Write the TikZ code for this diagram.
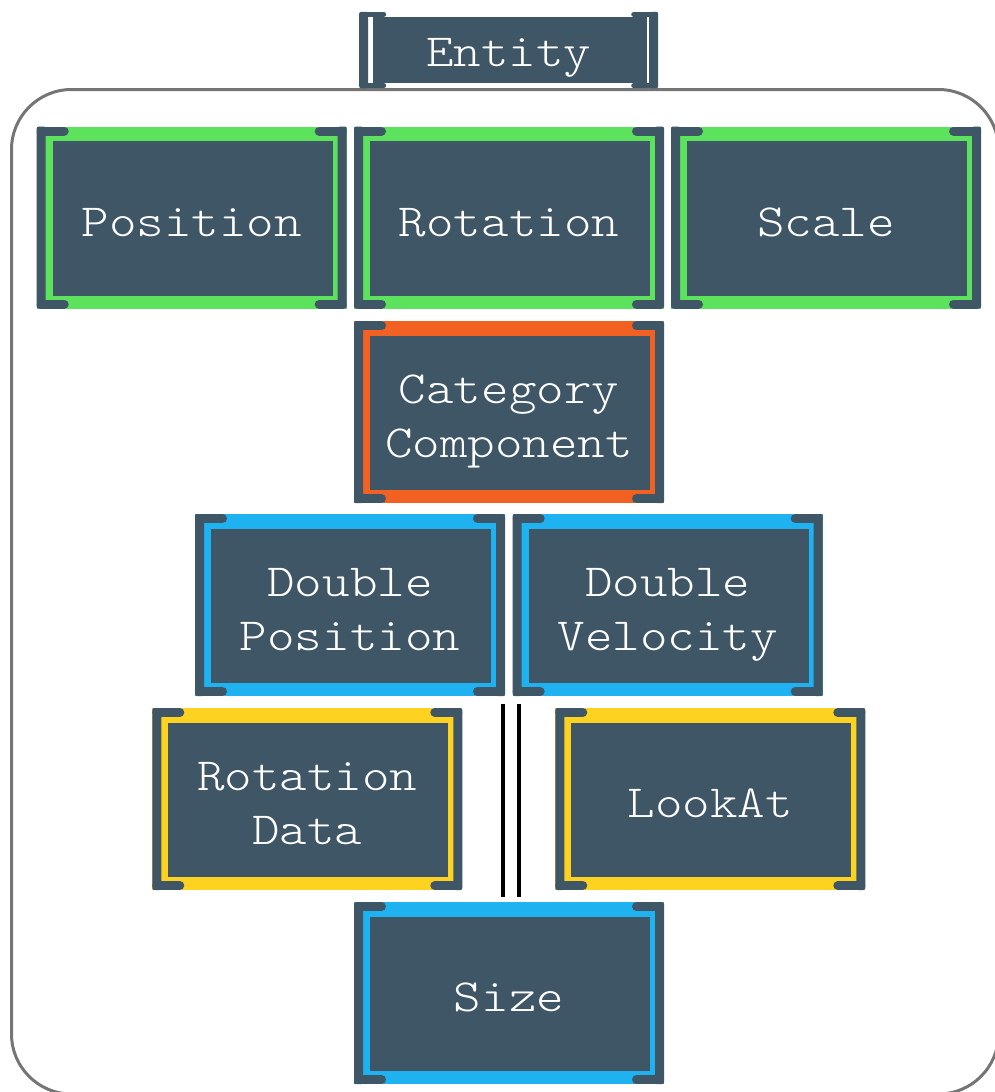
\documentclass[tikz,border=0pt]{standalone}
\usepackage{fontspec}
\newfontfamily\boxfont[FakeStretch=1.14]{lmmonolt10-regular.otf}
\definecolor{slate}{HTML}{3F5666}
\definecolor{cgreen}{HTML}{5CE25C}
\definecolor{corange}{HTML}{F26022}
\definecolor{cblue}{HTML}{1EB2F0}
\definecolor{cyellow}{HTML}{FDD220}
\definecolor{frame}{HTML}{757575}
% #1 = arm thickness, #2 = arm length
\newcommand\compbrackets[2]{%
  \fill[slate, rounded corners=2pt]
    (path picture bounding box.north west) rectangle
    ([xshift=9pt]path picture bounding box.south west);
  \fill[slate, rounded corners=2pt]
    ([xshift=-9pt]path picture bounding box.north east) rectangle
    (path picture bounding box.south east);
  \draw[slate, line width=#1pt, line cap=round]
    ([xshift=4.5pt,yshift=-#1pt/2]path picture bounding box.north west) --
    ([xshift=#2pt-#1pt/2,yshift=-#1pt/2]path picture bounding box.north west);
  \draw[slate, line width=#1pt, line cap=round]
    ([xshift=4.5pt,yshift=#1pt/2]path picture bounding box.south west) --
    ([xshift=#2pt-#1pt/2,yshift=#1pt/2]path picture bounding box.south west);
  \draw[slate, line width=#1pt, line cap=round]
    ([xshift=-4.5pt,yshift=-#1pt/2]path picture bounding box.north east) --
    ([xshift=-#2pt+#1pt/2,yshift=-#1pt/2]path picture bounding box.north east);
  \draw[slate, line width=#1pt, line cap=round]
    ([xshift=-4.5pt,yshift=#1pt/2]path picture bounding box.south east) --
    ([xshift=-#2pt+#1pt/2,yshift=#1pt/2]path picture bounding box.south east);
}
\tikzset{
  x=1pt, y=-1pt,
  compbox/.style={rectangle, fill=#1, minimum width=310pt, minimum height=182pt,
    inner sep=0pt, text=white, align=center,
    font=\boxfont\fontsize{46}{54}\selectfont,
    text height=37pt, text depth=0pt,
    path picture={
      \fill[slate] ([xshift=16pt,yshift=-14.5pt]path picture bounding box.north west)
        rectangle ([xshift=-14pt,yshift=13pt]path picture bounding box.south east);
      \compbrackets{9}{32}
    }},
  twoline/.style={text height=91pt},
  entitybox/.style={rectangle, fill=white, minimum width=299pt, minimum height=76.5pt,
    inner sep=0pt, text=white,
    font=\boxfont\fontsize{46}{54}\selectfont,
    text height=32pt, text depth=0pt,
    path picture={
      \fill[slate] ([xshift=13.4pt,yshift=-5pt]path picture bounding box.north west)
        rectangle ([xshift=-11.3pt,yshift=5.3pt]path picture bounding box.south east);
      \compbrackets{5}{27}
    }},
  container/.style={draw=frame, line width=3pt, rounded corners=60pt},
  bar/.style={draw=black, line width=4pt}
}
\begin{document}
\begin{tikzpicture}
\useasboundingbox (0,0) rectangle (995,1092);
\clip (0,0) rectangle (995,1092);
\draw[container] (11.5,89.5) rectangle (998.5,1094);
\node[entitybox] (entity) at (508.7,50) {Entity};
\node[compbox=cgreen] (pos) at (191.7,217.5) {Position};
\node[compbox=cgreen] (rot) at (509,217.5) {Rotation};
\node[compbox=cgreen] (scale) at (826,217.5) {Scale};
\node[compbox=corange, twoline] (cat) at (509,412.2) {Category\\Component};
\node[compbox=cblue, twoline] (dpos) at (350,605) {Double\\Position};
\node[compbox=cblue, twoline] (dvel) at (667.7,605) {Double\\Velocity};
\node[compbox=cyellow, twoline] (rotd) at (307.3,799) {Rotation\\Data};
\node[compbox=cyellow] (look) at (710.3,799) {LookAt};
\node[compbox=cblue] (size) at (509,993.2) {Size};
\coordinate (barAtop) at (503,704);
\coordinate (barAbot) at (503,897.3);
\coordinate (barBtop) at (518.7,704);
\coordinate (barBbot) at (518.7,897.3);
\draw[bar] (barAtop) -- (barAbot);
\draw[bar] (barBtop) -- (barBbot);
\end{tikzpicture}
\end{document}
